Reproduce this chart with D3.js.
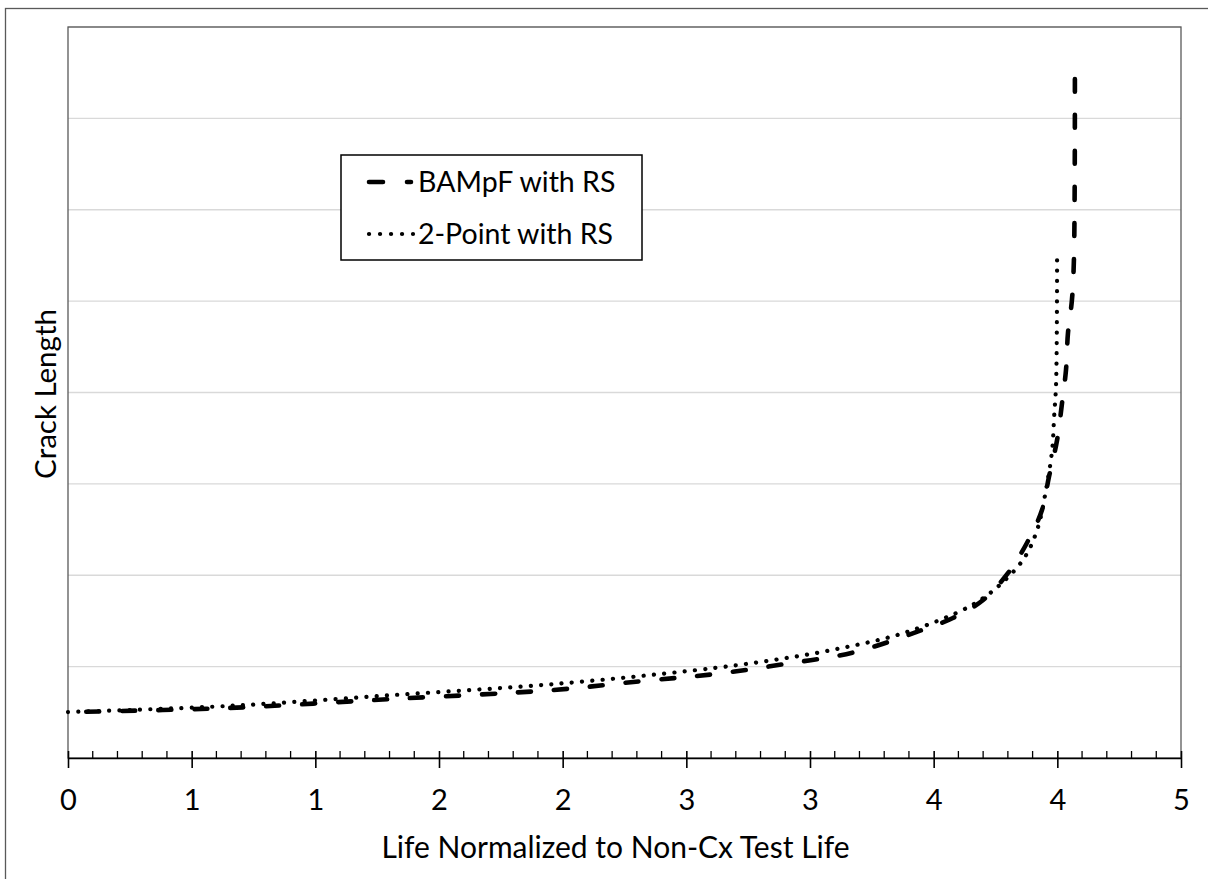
<!DOCTYPE html>
<html><head><meta charset="utf-8">
<script src="https://cdn.jsdelivr.net/npm/d3@7"></script>
<style>
body{margin:0;background:#fff;}
text{font-family:Lato,"Open Sans",sans-serif;fill:#000;}
</style>
</head><body>
<svg id="chart" width="1208" height="879"></svg>
<script>
// ---- data ----
const bampfX = [0.000,0.643,1.314,1.961,2.325,2.616,2.899,3.182,3.453,3.578,3.700,3.801,3.877,3.938,3.966,3.999,4.019,4.035,4.043,4.059,4.067,4.071];
const bampfY = [0.503,0.547,0.646,0.744,0.843,0.919,1.029,1.160,1.401,1.532,1.729,2.025,2.353,2.714,3.075,3.480,3.885,4.246,4.651,5.012,5.450,7.431];
const twoPtX = [0.000,0.643,1.314,1.969,2.543,2.826,3.109,3.392,3.655,3.776,3.869,3.922,3.954,3.979,3.987,3.995,3.999];
const twoPtY = [0.503,0.569,0.689,0.810,0.963,1.062,1.193,1.379,1.674,1.915,2.200,2.528,2.933,3.371,3.732,4.104,5.494];
const seriesNames = ["BAMpF with RS","2-Point with RS"];
const xTickValues = [0,0.5,1,1.5,2,2.5,3,3.5,4,4.5];
const xTickLabels = ["0","1","1","2","2","3","3","4","4","5"];
const yGridValues = [1,2,3,4,5,6,7,8];
const xTitle = "Life Normalized to Non-Cx Test Life";
const yTitle = "Crack Length";

// ---- layout ----
const svg = d3.select("#chart");
const L = 68, R = 1181, T = 27, B = 758;
const x = d3.scaleLinear().domain([0,4.5]).range([L,R]);
const y = d3.scaleLinear().domain([0,8]).range([B,T]);

// outer chart border (extends past the window)
svg.append("rect").attr("x",5.5).attr("y",8.5).attr("width",1300).attr("height",1000)
  .attr("fill","none").attr("stroke","#595959").attr("stroke-width",1.3);

// gridlines
svg.append("g").selectAll("line").data(yGridValues).join("line")
  .attr("x1",L).attr("x2",R).attr("y1",d=>y(d)).attr("y2",d=>y(d))
  .attr("stroke","#d9d9d9").attr("stroke-width",1.3);

// plot frame
svg.append("rect").attr("x",L).attr("y",T).attr("width",R-L).attr("height",B-T)
  .attr("fill","none").attr("stroke","#595959").attr("stroke-width",1.3);

// minor ticks
const minor = d3.range(0,4.5001,0.1).filter(v=>Math.abs(v*2-Math.round(v*2))>1e-6);
svg.append("g").selectAll("line").data(minor).join("line")
  .attr("x1",d=>x(d)).attr("x2",d=>x(d)).attr("y1",B-7).attr("y2",B)
  .attr("stroke","#000").attr("stroke-width",1.3);

// x axis
const xAxis = d3.axisBottom(x).tickValues(xTickValues)
  .tickFormat((d,i)=>xTickLabels[i]).tickSizeInner(0).tickSizeOuter(0).tickPadding(0);
const gx = svg.append("g").attr("transform",`translate(0,${B})`).call(xAxis);
gx.select(".domain").attr("stroke","#000").attr("stroke-width",1.6);
gx.selectAll(".tick line").attr("y1",-7).attr("y2",10).attr("stroke","#000").attr("stroke-width",1.6);
gx.selectAll(".tick text").attr("y",52).attr("dy",null).attr("font-size",29)
  .attr("font-family","Lato,'Open Sans',sans-serif").attr("fill","#000");

// titles
svg.append("text").attr("x",(L+R)/2 - 9).attr("y",858).attr("text-anchor","middle")
  .attr("font-size",30).text(xTitle);
svg.append("text").attr("transform",`translate(56,394) rotate(-90)`).attr("text-anchor","middle")
  .attr("font-size",29.5).text(yTitle);

// series
const line = d3.line().x(d=>x(d[0])).y(d=>y(d[1])).curve(d3.curveCatmullRom.alpha(0.5));
const bampf = bampfX.map((v,i)=>[v,bampfY[i]]);
const twoPt = twoPtX.map((v,i)=>[v,twoPtY[i]]);
const dashStyle = {w:4.6, dash:[13,23]};
const dotStyle = {w:4.2, dash:[0.1,10.2]};
const pB = svg.append("path").datum(bampf).attr("d",line).attr("fill","none").attr("stroke","#000")
  .attr("stroke-width",dashStyle.w).attr("stroke-dasharray",dashStyle.dash.join(",")).attr("stroke-linecap","round");
// align the dash pattern so that it finishes with a dash at the top end
const lenB = pB.node().getTotalLength();
const per = dashStyle.dash[0]+dashStyle.dash[1];
pB.attr("stroke-dashoffset", ((dashStyle.dash[0] - lenB) % per + per) % per);
svg.append("path").datum(twoPt).attr("d",line).attr("fill","none").attr("stroke","#000")
  .attr("stroke-width",dotStyle.w).attr("stroke-dasharray",dotStyle.dash.join(",")).attr("stroke-linecap","round");

// legend
const lg = svg.append("g");
lg.append("rect").attr("x",341).attr("y",155).attr("width",301).attr("height",105)
  .attr("fill","#fff").attr("stroke","#000").attr("stroke-width",1.5);
const styles = [dashStyle, dotStyle];
const rowsY = [182, 234];
seriesNames.forEach((n,i)=>{
  lg.append("line").attr("x1",369).attr("x2",i===0 ? 411 : 413).attr("y1",rowsY[i]).attr("y2",rowsY[i])
    .attr("stroke","#000").attr("stroke-width",styles[i].w)
    .attr("stroke-dasharray", i===0 ? "14,24" : "0.1,10.9").attr("stroke-linecap","round");
  lg.append("text").attr("x",418).attr("y",rowsY[i]).attr("dy","0.35em")
    .attr("font-size",28.5).text(n);
});
</script>
</body></html>
